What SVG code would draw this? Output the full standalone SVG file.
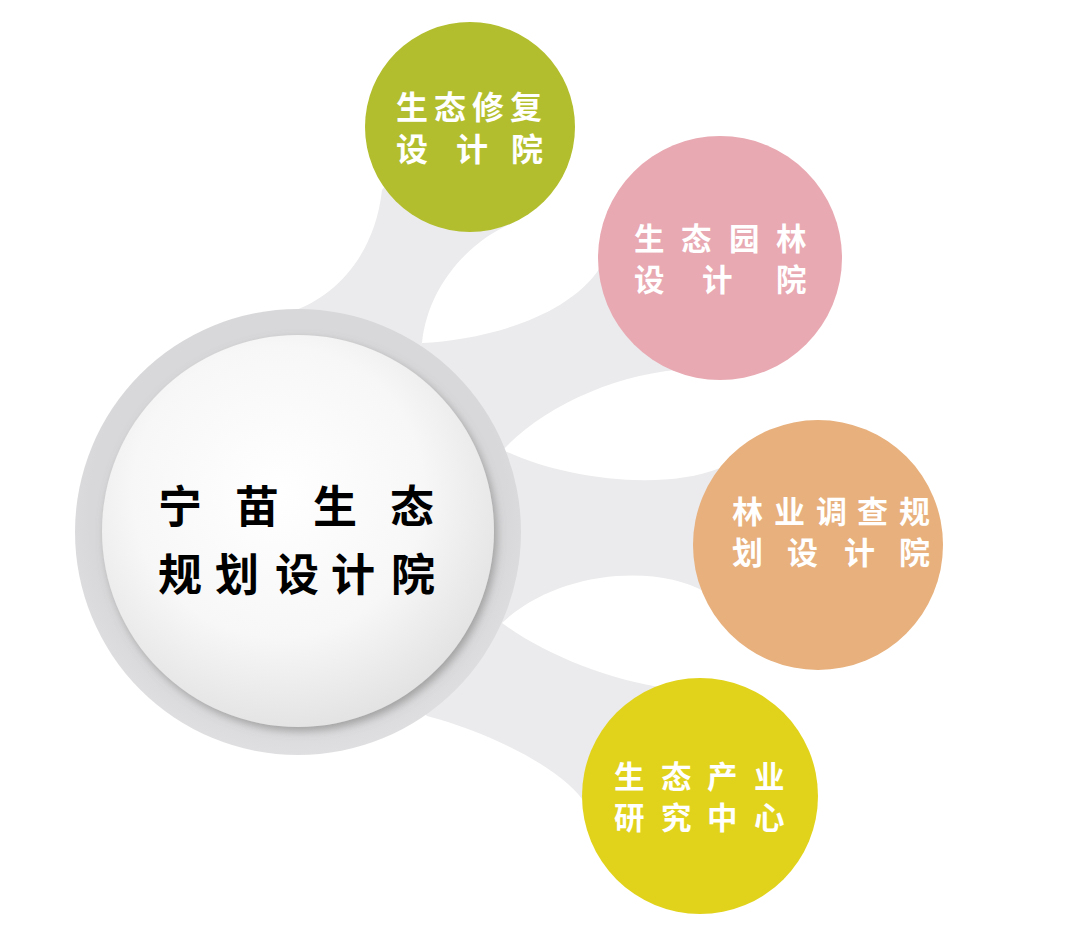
<svg xmlns="http://www.w3.org/2000/svg" width="1080" height="937" viewBox="0 0 1080 937">
<defs>
<style>
.conn{fill:#ebebed;stroke:none}
.lbl{font-family:"Noto Sans CJK SC","Noto Sans",sans-serif;font-weight:700;fill:#ffffff}
.main{font-family:"Noto Sans CJK SC","Noto Sans",sans-serif;font-weight:700;fill:#000000}
</style>
<radialGradient id="ringG" cx="50%" cy="45%" r="55%">
<stop offset="0.85" stop-color="#d8d8da"/>
<stop offset="1" stop-color="#dfdfe1"/>
</radialGradient>
<radialGradient id="innerG" cx="45%" cy="40%" r="62%">
<stop offset="0" stop-color="#ffffff"/>
<stop offset="0.6" stop-color="#f7f7f7"/>
<stop offset="1" stop-color="#e2e2e3"/>
</radialGradient>
<filter id="sh" x="-10%" y="-10%" width="125%" height="125%">
<feDropShadow dx="3" dy="4" stdDeviation="4" flood-color="#7a7a7a" flood-opacity="0.6"/>
</filter>
</defs>
<rect width="1080" height="937" fill="#ffffff"/>
<g id="connectors">
<path class="conn" d="M280 345 L290 312 C335 298 375 255 382 190 L440 120 L490 200 L515 222 C470 240 428 285 422 343 L400 380 Z"/>
<path class="conn" d="M400 380 L422 343 C480 340 565 320 600 268 L680 300 L690 369 C620 372 545 405 503 450 L440 420 Z"/>
<path class="conn" d="M440 440 L503 450 C560 478 660 492 720 468 L760 520 L705 592 C660 565 560 568 502 623 L440 620 Z"/>
<path class="conn" d="M440 620 L502 623 C545 655 610 680 665 688 L700 760 L586 805 C570 775 500 735 427 716 L400 690 Z"/>
</g>
<g id="center">
<circle cx="298" cy="532" r="223" fill="url(#ringG)"/>
<circle cx="298" cy="531" r="196" fill="url(#innerG)" filter="url(#sh)"/>
<text class="main" font-size="44"><tspan x="158 235 313 390" y="523">宁苗生态</tspan><tspan x="158 215 275 331 391" y="591">规划设计院</tspan></text>
</g>
<g id="n1">
<circle cx="470" cy="127" r="105" fill="#b2be2d"/>
<text class="lbl" font-size="32"><tspan x="396 434 472 510" y="119">生态修复</tspan><tspan x="396 456 511" y="161">设计院</tspan></text>
</g>
<g id="n2">
<circle cx="720" cy="258" r="122" fill="#e8a9b2"/>
<text class="lbl" font-size="30.5"><tspan x="634 681 729 776" y="250">生态园林</tspan><tspan x="634 702 776" y="290.5">设计院</tspan></text>
</g>
<g id="n3">
<circle cx="818" cy="545" r="125" fill="#e7b07c"/>
<text class="lbl" font-size="31"><tspan x="732 774 816 857 899" y="523">林业调查规</tspan><tspan x="732 787 844 899" y="564">划设计院</tspan></text>
</g>
<g id="n4">
<circle cx="700" cy="796" r="118" fill="#e1d31c"/>
<text class="lbl" font-size="30.5"><tspan x="614 661 707 754" y="788">生态产业</tspan><tspan x="614 661 707 754" y="829">研究中心</tspan></text>
</g>
</svg>
